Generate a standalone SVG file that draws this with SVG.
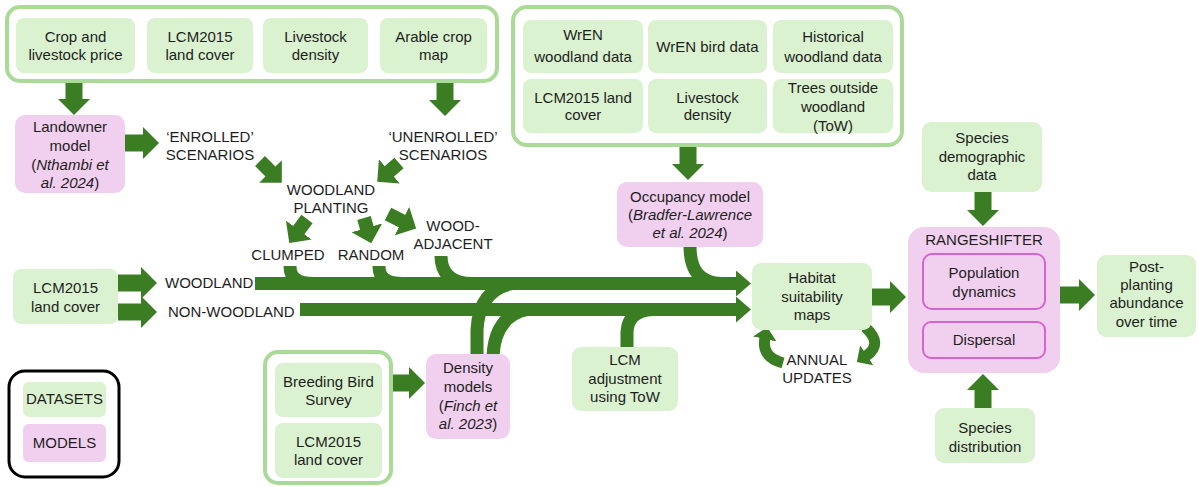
<svg xmlns="http://www.w3.org/2000/svg" width="1199" height="487" viewBox="0 0 1199 487">
<defs>
<style>
text{font-family:"Liberation Sans",Arial,sans-serif;font-size:15px;fill:#1e1e1e;text-anchor:middle}
.grp{fill:#fff;stroke:#a9da96;stroke-width:4}
.ds{fill:#daf2d0;stroke:none}
.md{fill:#f1cfee;stroke:none}
.mi{fill:#f1cfee;stroke:#d565cd;stroke-width:2}
.ar{stroke:#3b7d23;fill:none;stroke-width:17;marker-end:url(#ah)}
.ard{stroke:#3b7d23;fill:none;stroke-width:14;marker-end:url(#ah)}
.arm{stroke:#3b7d23;fill:none;stroke-width:13;marker-end:url(#ahm)}
.br{stroke:#3b7d23;fill:none;stroke-width:13}
.cu{stroke:#3b7d23;fill:none;stroke-width:11;marker-end:url(#ahs)}
.it{font-style:italic}
</style>
<marker id="ah" viewBox="0 0 16 32" refX="1" refY="16" markerWidth="16" markerHeight="32" orient="auto" markerUnits="userSpaceOnUse"><path d="M0,0 L16,16 L0,32 Z" fill="#3b7d23"/></marker>
<marker id="ahm" viewBox="0 0 15 26" refX="1" refY="13" markerWidth="15" markerHeight="26" orient="auto" markerUnits="userSpaceOnUse"><path d="M0,0 L15,13 L0,26 Z" fill="#3b7d23"/></marker>
<marker id="ahs" viewBox="0 0 12 24" refX="1" refY="12" markerWidth="12" markerHeight="24" orient="auto" markerUnits="userSpaceOnUse"><path d="M0,0 L12,12 L0,24 Z" fill="#3b7d23"/></marker>
</defs>

<g id="connectors">
<line class="ar" x1="74" y1="82" x2="74" y2="100"/>
<line class="ar" x1="445" y1="82" x2="445" y2="101"/>
<line class="ar" x1="125" y1="143" x2="144" y2="143"/>
<line class="ard" x1="260" y1="161" x2="271.2" y2="172.2"/>
<line class="ard" x1="399" y1="163" x2="388.6" y2="172"/>
<line class="ard" x1="307" y1="219" x2="298.2" y2="230.9"/>
<line class="ard" x1="364" y1="218" x2="367.1" y2="228.8"/>
<line class="ard" x1="388" y1="214" x2="402.8" y2="221.6"/>
<line class="ar" x1="118" y1="283" x2="142" y2="283"/>
<line class="ar" x1="118" y1="312" x2="142" y2="312"/>
<line class="arm" x1="255" y1="283.5" x2="737" y2="283.5"/>
<line class="arm" x1="300" y1="309.5" x2="737" y2="309.5"/>
<path class="br" d="M290,266 C290,277 296,283.5 314,283.5"/>
<path class="br" d="M379,266 C379,277 385,283.5 403,283.5"/>
<path class="br" d="M441,256 C441,272 450,283.5 472,283.5"/>
<path class="br" d="M690,246 C690,268 698,283.5 722,283.5"/>
<path class="br" d="M477,356 L477,330 Q479,290 512,283.5"/>
<path class="br" d="M493,356 Q495,316 527,309.5"/>
<path class="br" d="M627,348 L627,332 Q628,311 652,309.5"/>
<line class="ar" x1="688" y1="145" x2="688" y2="165"/>
<line class="ar" x1="392" y1="383" x2="410" y2="383"/>
<line class="ar" x1="872" y1="297" x2="891" y2="297"/>
<line class="ar" x1="983" y1="192" x2="983" y2="211"/>
<line class="ar" x1="983" y1="408" x2="983" y2="389"/>
<line class="ar" x1="1060" y1="295" x2="1080" y2="295"/>
<path class="cu" d="M783,363 Q761,357 765,338"/>
<path class="cu" d="M865,327 Q884,344 866,356"/>
</g>

<g id="group-landowner-inputs">
<rect class="grp" x="7" y="7" width="490" height="74" rx="13"/>
<rect class="ds" x="16" y="18" width="119" height="55" rx="8"/>
<text x="75.5" y="42">Crop and</text><text x="75.5" y="60">livestock price</text>
<rect class="ds" x="147" y="18" width="106" height="55" rx="8"/>
<text x="200" y="42">LCM2015</text><text x="200" y="60">land cover</text>
<rect class="ds" x="263" y="18" width="105" height="55" rx="8"/>
<text x="315.5" y="42">Livestock</text><text x="315.5" y="60">density</text>
<rect class="ds" x="380" y="18" width="107" height="55" rx="8"/>
<text x="433.5" y="42">Arable crop</text><text x="433.5" y="60">map</text>
</g>

<g id="landowner-model">
<rect class="md" x="15" y="115" width="110" height="78" rx="10"/>
<text x="70" y="132">Landowner</text>
<text x="70" y="151">model</text>
<text x="70" y="170">(<tspan class="it">Nthambi et</tspan></text>
<text x="70" y="188"><tspan class="it">al. 2024</tspan>)</text>
</g>

<g id="scenario-labels">
<text x="210" y="142">‘ENROLLED’</text><text x="210" y="160">SCENARIOS</text>
<text x="443" y="142">‘UNENROLLED’</text><text x="443" y="160">SCENARIOS</text>
<text x="331" y="195">WOODLAND</text><text x="331" y="213">PLANTING</text>
<text x="288" y="260">CLUMPED</text>
<text x="371" y="260">RANDOM</text>
<text x="453" y="231">WOOD-</text><text x="453" y="249">ADJACENT</text>
<text x="165" y="288" style="text-anchor:start">WOODLAND</text>
<text x="168" y="317" style="text-anchor:start">NON-WOODLAND</text>
<text x="817" y="365">ANNUAL</text><text x="817" y="383">UPDATES</text>
</g>

<g id="lcm-left">
<rect class="ds" x="13" y="269" width="105" height="55" rx="8"/>
<text x="65.5" y="293">LCM2015</text><text x="65.5" y="312">land cover</text>
</g>

<g id="group-occupancy-inputs">
<rect class="grp" x="513" y="7" width="389" height="138" rx="14"/>
<rect class="ds" x="523" y="20" width="120" height="53" rx="8"/>
<text x="583" y="40">WrEN</text><text x="583" y="62">woodland data</text>
<rect class="ds" x="648" y="20" width="119" height="53" rx="8"/>
<text x="707.5" y="52">WrEN bird data</text>
<rect class="ds" x="773" y="20" width="120" height="53" rx="8"/>
<text x="833" y="42">Historical</text><text x="833" y="62">woodland data</text>
<rect class="ds" x="523" y="79" width="120" height="54" rx="8"/>
<text x="583" y="103">LCM2015 land</text><text x="583" y="120">cover</text>
<rect class="ds" x="648" y="79" width="119" height="54" rx="8"/>
<text x="707.5" y="103">Livestock</text><text x="707.5" y="120">density</text>
<rect class="ds" x="773" y="79" width="120" height="54" rx="8"/>
<text x="833" y="93">Trees outside</text><text x="833" y="112">woodland</text><text x="833" y="131">(ToW)</text>
</g>

<g id="occupancy-model">
<rect class="md" x="617" y="182" width="146" height="65" rx="10"/>
<text x="690" y="202">Occupancy model</text>
<text x="690" y="220">(<tspan class="it">Bradfer-Lawrence</tspan></text>
<text x="690" y="238"><tspan class="it">et al. 2024</tspan>)</text>
</g>

<g id="habitat-maps">
<rect class="ds" x="752" y="263" width="120" height="67" rx="9"/>
<text x="812" y="283">Habitat</text><text x="812" y="302">suitability</text><text x="812" y="320">maps</text>
</g>

<g id="species-demographic">
<rect class="ds" x="922" y="122" width="120" height="70" rx="9"/>
<text x="982" y="143">Species</text><text x="982" y="162">demographic</text><text x="982" y="180">data</text>
</g>

<g id="rangeshifter">
<rect class="md" x="908" y="227" width="152" height="146" rx="16"/>
<text x="984" y="245">RANGESHIFTER</text>
<rect class="mi" x="923" y="254" width="122" height="55" rx="9"/>
<text x="984" y="278">Population</text><text x="984" y="297">dynamics</text>
<rect class="mi" x="923" y="322" width="122" height="36" rx="8"/>
<text x="984" y="345">Dispersal</text>
</g>

<g id="post-planting">
<rect class="ds" x="1097" y="255" width="99" height="82" rx="9"/>
<text x="1146.5" y="272">Post-</text><text x="1146.5" y="290">planting</text><text x="1146.5" y="308">abundance</text><text x="1146.5" y="327">over time</text>
</g>

<g id="species-distribution">
<rect class="ds" x="935" y="408" width="100" height="55" rx="9"/>
<text x="985" y="433">Species</text><text x="985" y="452">distribution</text>
</g>

<g id="lcm-adjustment">
<rect class="ds" x="572" y="347" width="106" height="64" rx="9"/>
<text x="625" y="365">LCM</text><text x="625" y="384">adjustment</text><text x="625" y="402">using ToW</text>
</g>

<g id="density-models">
<rect class="md" x="426" y="354" width="84" height="85" rx="10"/>
<text x="468" y="373">Density</text>
<text x="468" y="392">models</text>
<text x="468" y="411">(<tspan class="it">Finch et</tspan></text>
<text x="468" y="429"><tspan class="it">al. 2023</tspan>)</text>
</g>

<g id="group-density-inputs">
<rect class="grp" x="265" y="352" width="126" height="131" rx="13"/>
<rect class="ds" x="275" y="363" width="107" height="54" rx="8"/>
<text x="328.5" y="387">Breeding Bird</text><text x="328.5" y="405">Survey</text>
<rect class="ds" x="275" y="423" width="107" height="55" rx="8"/>
<text x="328.5" y="447">LCM2015</text><text x="328.5" y="465">land cover</text>
</g>

<g id="legend">
<rect x="9" y="371" width="110" height="106" rx="16" fill="#fff" stroke="#000" stroke-width="3"/>
<rect class="ds" x="23" y="382" width="83" height="35" rx="6"/>
<text x="64.5" y="404">DATASETS</text>
<rect class="md" x="23" y="424" width="83" height="38" rx="6"/>
<text x="64.5" y="448">MODELS</text>
</g>
</svg>
